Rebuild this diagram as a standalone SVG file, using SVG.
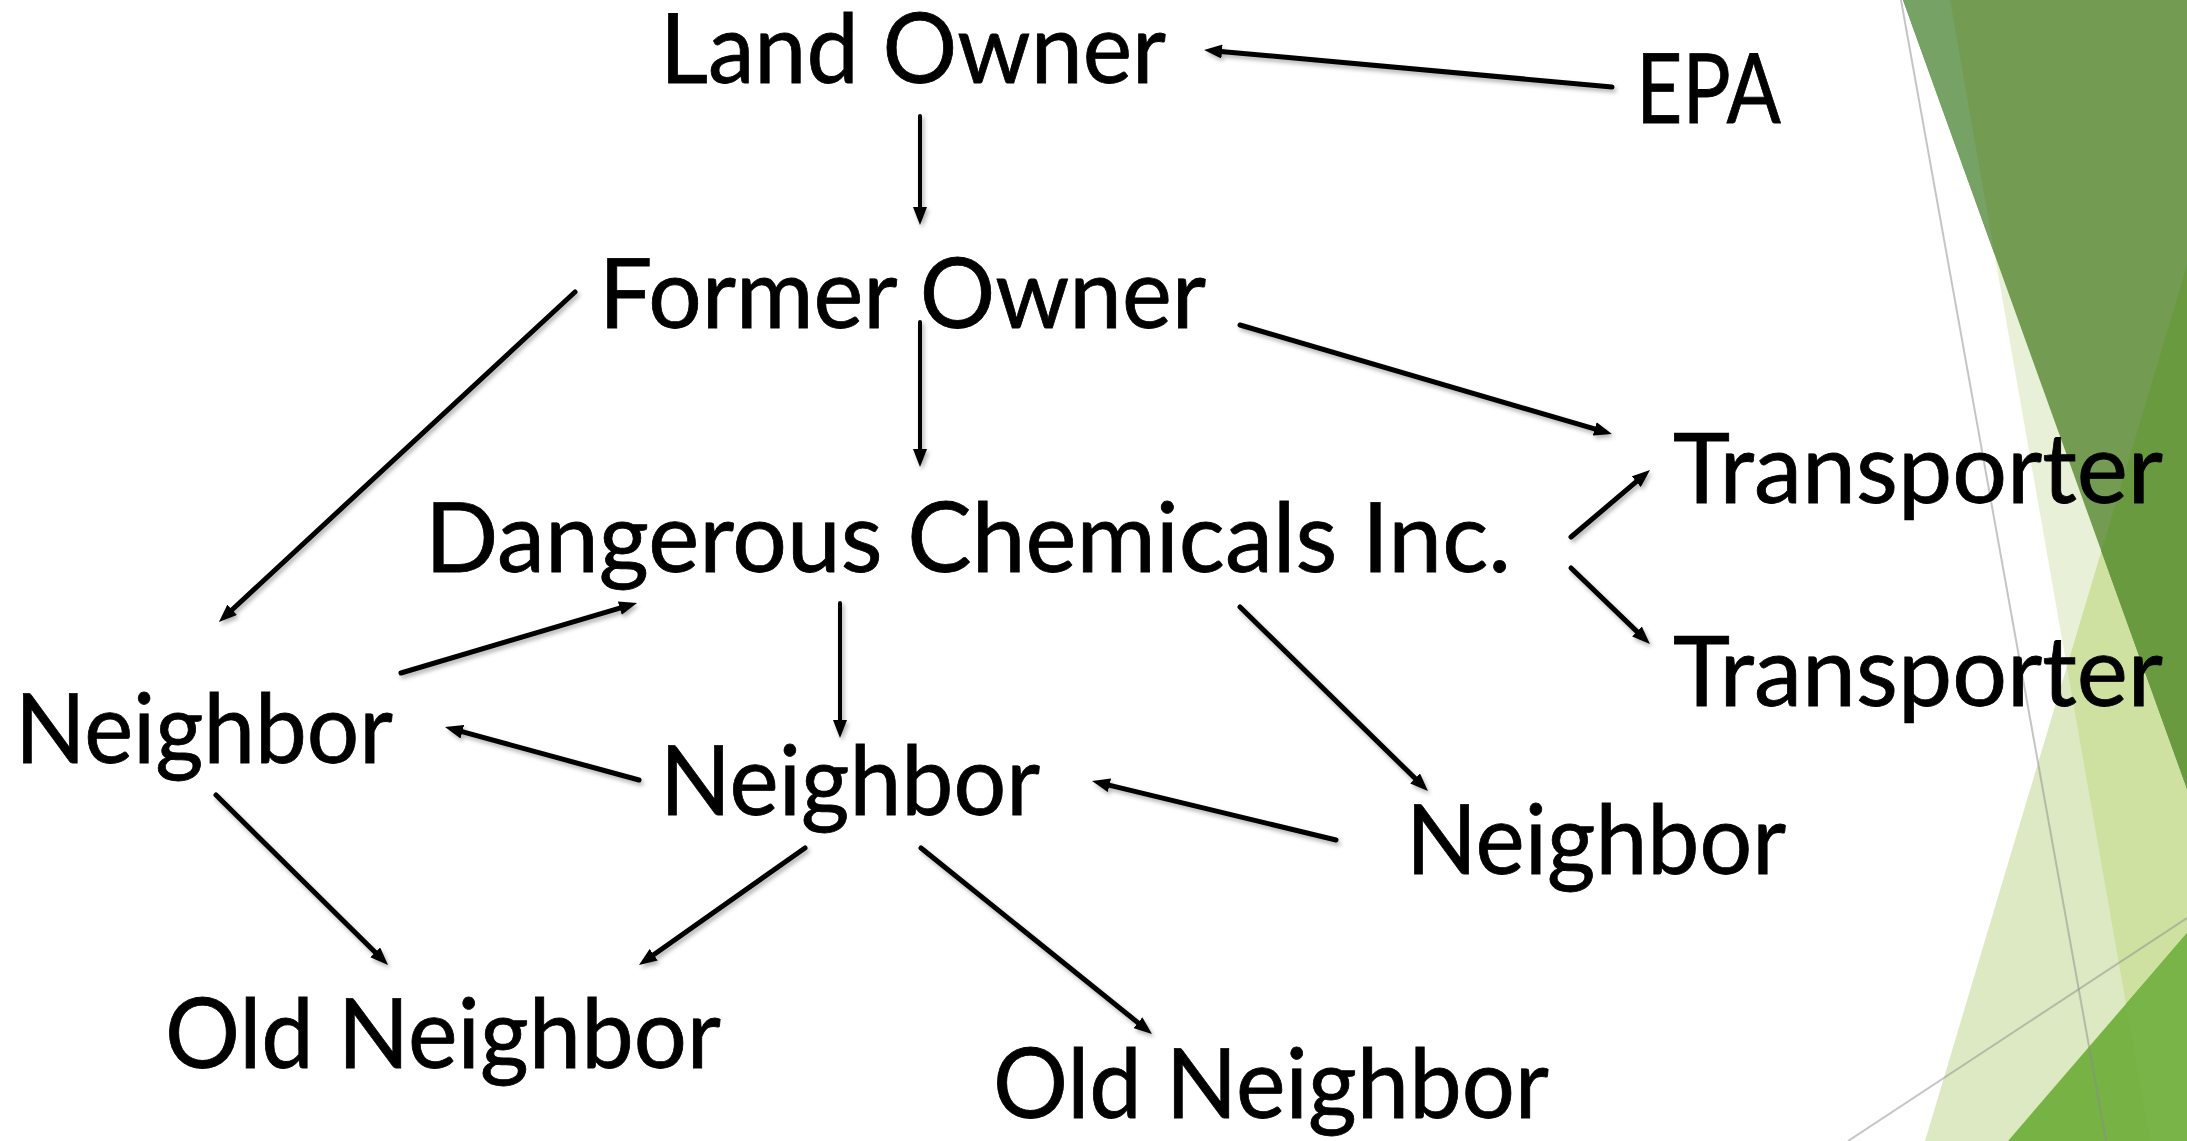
<svg xmlns="http://www.w3.org/2000/svg" width="2187" height="1141" viewBox="0 0 2187 1141">
<style>
.lbl{font-family:Lato,"Open Sans","DejaVu Sans",sans-serif;font-size:96px;fill:#000;stroke:#000;stroke-width:0.8;}
.c{fill:none;stroke:#000;stroke-width:5;stroke-linecap:round;marker-end:url(#ah);}
.cv{stroke-width:4;}
.gl{stroke:#8c8c8c;stroke-opacity:0.5;stroke-width:2;fill:none;}
</style>
<defs>
<marker id="ah" viewBox="0 0 18 14" markerWidth="18" markerHeight="14" refX="7" refY="7" orient="auto" markerUnits="userSpaceOnUse">
<path d="M0,0 L18,7 L0,14 z" fill="#000"/>
</marker>
<filter id="sh" x="-10%" y="-10%" width="120%" height="120%">
<feDropShadow dx="2" dy="3" stdDeviation="2" flood-color="#000" flood-opacity="0.3"/>
</filter>
</defs>
<rect width="2187" height="1141" fill="#fff"/>
<g id="decoration">
<polygon points="1950,0 2187,0 2187,1141 2150,1141" fill="#e8f0d8"/>
<polygon points="2187,265 1925,1141 2187,1141" fill="#dde9c2"/>
<polygon points="2187,265 2066.9,666.7 2150,1141 2187,1141" fill="#cfe1a0"/>
<polygon points="1903,0 2187,0 2187,789" fill="#739c52"/>
<polygon points="1903,0 1950,0 1994.6,254.5" fill="#76a265"/>
<polygon points="2187,265 2101.4,551.2 2187,789" fill="#6a9a40"/>
<polygon points="2008,1141 2187,933 2187,1141" fill="#76b244"/>
<polygon points="2126,1004 2187,933 2187,1141 2150,1141" fill="#79b449"/>
<line class="gl" x1="1901" y1="0" x2="2106" y2="1141"/>
<line class="gl" x1="1848" y1="1141" x2="2187" y2="918"/>
</g>
<g id="n-landowner"><text class="lbl" x="660" y="83" textLength="506" lengthAdjust="spacingAndGlyphs">Land Owner</text></g>
<g id="n-epa"><text class="lbl" x="1636" y="123" textLength="145" lengthAdjust="spacingAndGlyphs">EPA</text></g>
<g id="n-formerowner"><text class="lbl" x="599" y="328" textLength="607" lengthAdjust="spacingAndGlyphs">Former Owner</text></g>
<g id="n-dci"><text class="lbl" x="425" y="572" textLength="1086" lengthAdjust="spacingAndGlyphs">Dangerous Chemicals Inc.</text></g>
<g id="n-transporter1"><text class="lbl" x="1673" y="503" textLength="490" lengthAdjust="spacingAndGlyphs">Transporter</text></g>
<g id="n-transporter2"><text class="lbl" x="1673" y="706" textLength="490" lengthAdjust="spacingAndGlyphs">Transporter</text></g>
<g id="n-neighbor-left"><text class="lbl" x="15" y="763" textLength="378" lengthAdjust="spacingAndGlyphs">Neighbor</text></g>
<g id="n-neighbor-mid"><text class="lbl" x="660" y="815" textLength="380" lengthAdjust="spacingAndGlyphs">Neighbor</text></g>
<g id="n-neighbor-right"><text class="lbl" x="1406" y="874" textLength="380" lengthAdjust="spacingAndGlyphs">Neighbor</text></g>
<g id="n-oldneighbor-left"><text class="lbl" x="165" y="1068" textLength="556" lengthAdjust="spacingAndGlyphs">Old Neighbor</text></g>
<g id="n-oldneighbor-right"><text class="lbl" x="993" y="1118" textLength="556" lengthAdjust="spacingAndGlyphs">Old Neighbor</text></g>
<g id="connectors" filter="url(#sh)">
<line class="c" x1="1612" y1="87" x2="1215" y2="50.9"/>
<line class="c cv" x1="920" y1="116" x2="920" y2="214"/>
<line class="c" x1="575" y1="292" x2="227" y2="614.5"/>
<line class="c cv" x1="920" y1="322" x2="920" y2="456"/>
<line class="c" x1="1240" y1="325" x2="1601.4" y2="430.9"/>
<line class="c" x1="1571" y1="537" x2="1641.6" y2="477.2"/>
<line class="c" x1="1571" y1="568" x2="1642" y2="636.4"/>
<line class="c" x1="401" y1="673" x2="626.5" y2="606.1"/>
<line class="c" x1="639" y1="780" x2="455.6" y2="729.9"/>
<line class="c cv" x1="840" y1="603" x2="840" y2="727"/>
<line class="c" x1="1240" y1="607" x2="1420.1" y2="783.3"/>
<line class="c" x1="1336" y1="840" x2="1102.7" y2="783.6"/>
<line class="c" x1="216" y1="795" x2="380.2" y2="957.3"/>
<line class="c" x1="805" y1="848" x2="648" y2="958.7"/>
<line class="c" x1="921" y1="848" x2="1143.4" y2="1027.1"/>
</g>
</svg>
